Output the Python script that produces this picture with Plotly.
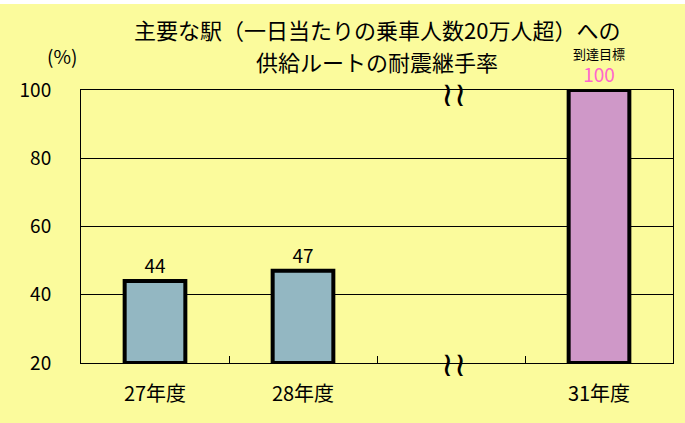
import plotly.graph_objects as go

categories = ["27年度", "28年度", " ", "31年度"]
values = [44, 47, None, 100]
label_text = ["44", "47", "", "100"]
bar_colors = ["#93b7c2", "#93b7c2", "rgba(0,0,0,0)", "#cf98c8"]
label_colors = ["#000000", "#000000", "#000000", "#ff66cc"]
y_ticks = [20, 40, 60, 80, 100]
Y_MIN = 20

BG = "#fbfb9c"
FONT = "Noto Sans CJK JP"

fig = go.Figure()
fig.add_trace(go.Bar(
    x=categories,
    y=[None if v is None else v - Y_MIN for v in values],
    base=Y_MIN,
    text=label_text,
    textposition="outside",
    textfont=dict(family=FONT, size=19, color=label_colors),
    cliponaxis=False,
    marker=dict(color=bar_colors, line=dict(color="#000000", width=4)),
    hoverinfo="skip",
))

PLOT_H = 423 - 90 - 60

fig.update_layout(
    width=685, height=423,
    paper_bgcolor=BG, plot_bgcolor=BG,
    margin=dict(l=81, r=12, t=90, b=60),
    bargap=0.59,
    showlegend=False,
    font=dict(family=FONT, color="#000000"),
    xaxis=dict(
        type="category",
        showline=True, linecolor="#000000", linewidth=1, mirror=True,
        ticks="inside", tickson="boundaries", ticklen=7, tickcolor="#000000",
        tickfont=dict(family=FONT, size=20, color="#000000"),
        ticklabelstandoff=13,
        showgrid=False,
    ),
    yaxis=dict(
        range=[Y_MIN, 100], tickvals=y_ticks,
        showline=True, linecolor="#000000", linewidth=1, mirror=True,
        showgrid=True, gridcolor="#000000", gridwidth=1,
        tickfont=dict(family=FONT, size=19, color="#000000"),
        ticklabelstandoff=25,
        zeroline=False,
    ),
    shapes=[dict(
        type="rect", xref="paper", yref="paper",
        x0=-0.2, x1=1.1, y0=1 + 86 / PLOT_H, y1=1 + 95 / PLOT_H,
        fillcolor="#ffffff", line=dict(width=0), layer="above",
    )],
)

title_lines = ["主要な駅（一日当たりの乗車人数20万人超）への", "供給ルートの耐震継手率"]
for line, shift in zip(title_lines, (61, 29)):
    fig.add_annotation(
        text=line, xref="paper", yref="paper", x=0.5, y=1.0, yshift=shift,
        xanchor="center", yanchor="middle", showarrow=False,
        font=dict(family=FONT, size=22, color="#000000"),
    )
fig.add_annotation(
    text="(%)", xref="paper", yref="paper", x=-0.032, y=1.0, yshift=35,
    xanchor="center", yanchor="middle", showarrow=False,
    font=dict(family=FONT, size=19, color="#000000"),
)
fig.add_annotation(
    text="到達目標", xref="x", yref="paper", x="31年度", y=1.0, yshift=37,
    xanchor="center", yanchor="middle", showarrow=False,
    font=dict(family=FONT, size=13, color="#000000"),
)
for yv, sh in ((100, -4), (Y_MIN, -1)):
    fig.add_annotation(
        text="≀≀", xref="x", yref="y", x=" ", y=yv, yshift=sh, xshift=3,
        xanchor="center", yanchor="middle", showarrow=False,
        font=dict(family="DejaVu Sans", size=34, color="#000000"),
    )

fig.write_html(
    "out.html",
    config={"displayModeBar": False},
    post_script="document.body.style.margin='0px';",
)
